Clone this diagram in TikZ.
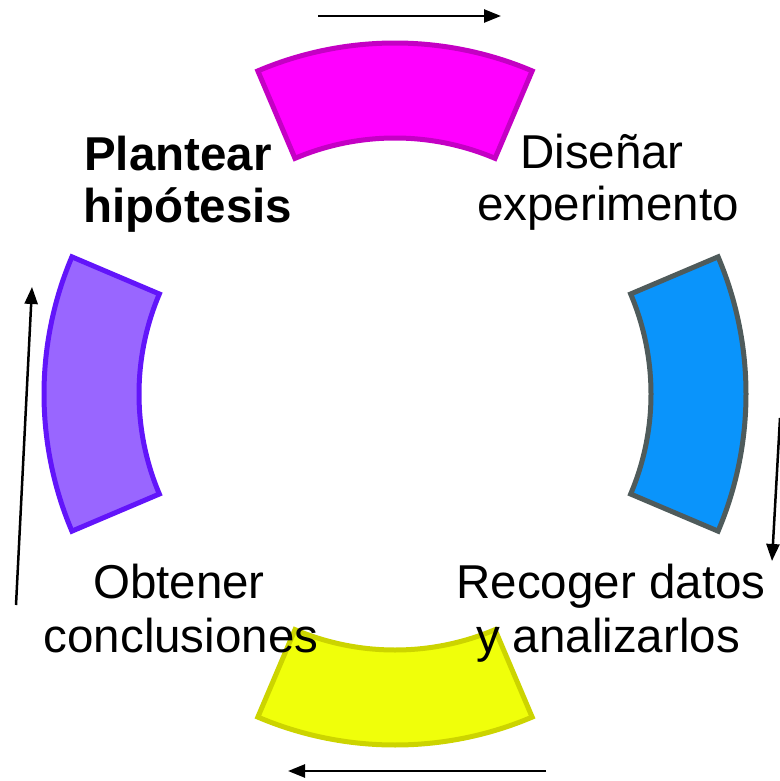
\documentclass[tikz,border=0pt]{standalone}
\usepackage{fontspec}
\setmainfont{Liberation Sans}
\usetikzlibrary{arrows.meta}
\definecolor{magfill}{HTML}{FF00FF}
\definecolor{magline}{HTML}{C400C4}
\definecolor{bluefill}{HTML}{0A94FB}
\definecolor{blueline}{HTML}{4F5B5B}
\definecolor{purpfill}{HTML}{9966FF}
\definecolor{purpline}{HTML}{6215FA}
\definecolor{yelfill}{HTML}{F0FF0A}
\definecolor{yelline}{HTML}{CCD400}
\newcommand{\ringseg}[5]{% start angle, end angle, fill, line, name
  \filldraw[segment, fill=#3, draw=#4]
    ([shift={(#1:351)}]C) arc[start angle=#1, end angle=#2, radius=351]
    -- ([shift={(#2:256)}]C) arc[start angle=#2, end angle=#1, radius=256]
    -- cycle;}
\begin{document}
\begin{tikzpicture}[x=1pt, y=-1pt,
  segment/.style={line width=5pt, line join=miter},
  label/.style={inner sep=0pt, anchor=base, font=\fontsize{47.5}{53}\selectfont},
  flow/.style={line width=2.5pt, -{Triangle[length=17pt, width=13pt]}}]
\useasboundingbox (0,0) rectangle (779,781);
\coordinate (C) at (395,394);
% ring segments
\ringseg{247}{293}{magfill}{magline}{top}
\ringseg{-23}{23}{bluefill}{blueline}{right}
\ringseg{67}{113}{yelfill}{yelline}{bottom}
\ringseg{157}{203}{purpfill}{purpline}{left}
% labels
\node[label, font=\fontsize{47.5}{53}\selectfont\bfseries] (plan1) at (178,170) {Plantear};
\node[label, font=\fontsize{47.5}{53}\selectfont\bfseries] (plan2) at (188,222) {hipótesis};
\node[label] (dis1) at (602,168) {Diseñar};
\node[label] (dis2) at (608,220) {experimento};
\node[label] (rec1) at (611,598) {Recoger datos};
\node[label] (rec2) at (608,652) {y analizarlos};
\node[label] (obt1) at (179,598) {Obtener};
\node[label] (obt2) at (181,652) {conclusiones};
% arrows
\coordinate (ta) at (318,16);
\coordinate (tb) at (501,16);
\coordinate (ra) at (780,418);
\coordinate (rb) at (772,561);
\coordinate (ba) at (546,771);
\coordinate (bb) at (288,771);
\coordinate (la) at (16,605);
\coordinate (lb) at (32,287);
\draw[flow] (ta) -- (tb);
\draw[flow] (ra) -- (rb);
\draw[flow] (ba) -- (bb);
\draw[flow] (la) -- (lb);
\end{tikzpicture}
\end{document}
